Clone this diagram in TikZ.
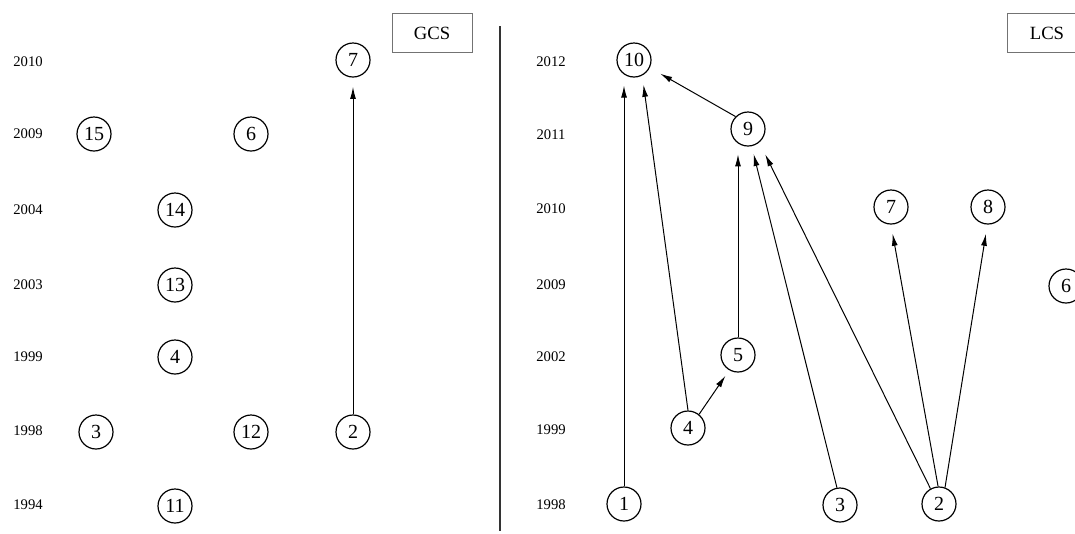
\documentclass[tikz,border=0pt]{standalone}
\usepackage{fontspec}
\setmainfont{Liberation Serif}
\usetikzlibrary{arrows.meta}

\begin{document}
\begin{tikzpicture}[x=0.75pt,y=-0.75pt,
  v/.style={draw,circle,line width=0.9pt,minimum size=25.5pt,inner sep=0pt,font=\fontsize{15}{15}\selectfont},
  yr/.style={inner sep=0pt,font=\fontsize{11}{11}\selectfont},
  tag/.style={draw=black!55,line width=0.7pt,minimum width=60pt,minimum height=29pt,inner sep=0pt,font=\fontsize{14}{14}\selectfont},
  link/.style={-{Latex[length=9pt,width=4.5pt]},line width=0.75pt,shorten >=7pt}]
\useasboundingbox (0,0) rectangle (1075,533);

\node[yr] (gy2010) at (28,62) {2010};
\node[yr] (gy2009) at (28,134) {2009};
\node[yr] (gy2004) at (28,210) {2004};
\node[yr] (gy2003) at (28,285) {2003};
\node[yr] (gy1999) at (28,357) {1999};
\node[yr] (gy1998) at (28,431) {1998};
\node[yr] (gy1994) at (28,505) {1994};

\node[v] (g7) at (353,60) {7};
\node[v] (g15) at (94,134) {15};
\node[v] (g6) at (251,134) {6};
\node[v] (g14) at (175,210) {14};
\node[v] (g13) at (175,285) {13};
\node[v] (g4) at (175,357) {4};
\node[v] (g3) at (96,432) {3};
\node[v] (g12) at (251,432) {12};
\node[v] (g2) at (353,432) {2};
\node[v] (g11) at (175,506) {11};
\node[tag] (gcs) at (432,33) {GCS};
\draw[link] (g2.north)--(g7.south);

\coordinate (divtop) at (500,26);
\coordinate (divbot) at (500,531);
\draw[black!80,line width=0.8pt] (divtop)--(divbot);

\node[yr] (ly2012) at (551,62) {2012};
\node[yr] (ly2011) at (551,135) {2011};
\node[yr] (ly2010) at (551,209) {2010};
\node[yr] (ly2009) at (551,285) {2009};
\node[yr] (ly2002) at (551,357) {2002};
\node[yr] (ly1999) at (551,430) {1999};
\node[yr] (ly1998) at (551,505) {1998};

\node[v] (l10) at (634,60) {10};
\node[v] (l9) at (748,129) {9};
\node[v] (l7) at (891,207) {7};
\node[v] (l8) at (988,207) {8};
\node[v] (l6) at (1066,286) {6};
\node[v] (l5) at (738,355) {5};
\node[v] (l4) at (688,428) {4};
\node[v] (l1) at (624,504) {1};
\node[v] (l3) at (840,505) {3};
\node[v] (l2) at (939,504) {2};
\node[tag] (lcs) at (1047,33) {LCS};

\draw[link] (l1.north)--(l1.north |- l10.-112);
\draw[link] (l4.north)--(l10.-62);
\draw[link,shorten >=9pt] (l9.135)--(l10.-26);
\draw[link] (l5.north)--(l5.north |- l9.-114);
\draw[link,shorten >=6pt] (l3.100)--(l9.-78);
\draw[link,shorten >=10pt] (l2.119)--(l9.-50);
\draw[link] (l2.93)--(l7.south);
\draw[link] (l2.70)--(l8.-92);
\draw[link,shorten >=5pt] (l4.51)--(l5.-120);




\end{tikzpicture}
\end{document}
